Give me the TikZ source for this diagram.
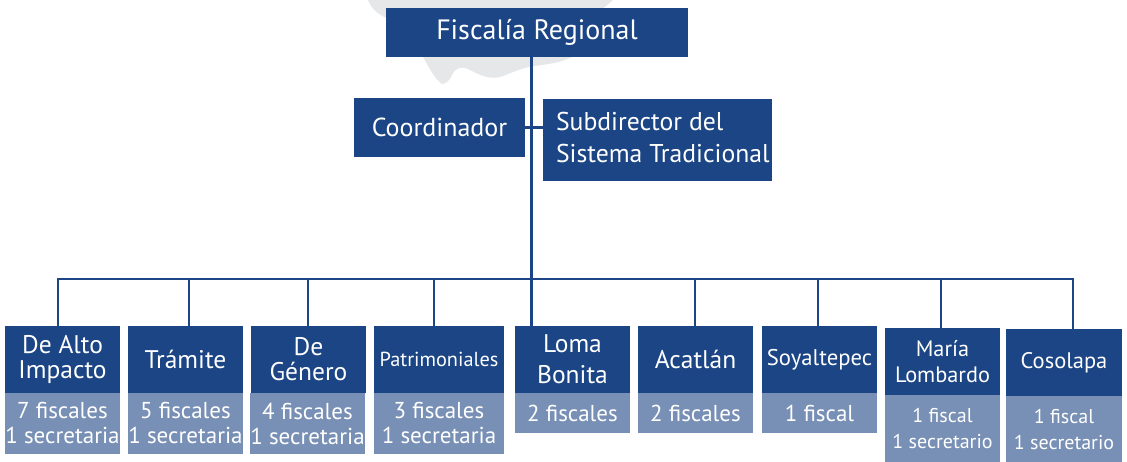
\documentclass[tikz,border=0pt]{standalone}
\usepackage{fontspec}
\setmainfont{PT Sans}
\definecolor{dkblue}{HTML}{1B4584}
\definecolor{ltblue}{HTML}{7890B5}
\definecolor{blobgray}{HTML}{E6E7E9}
\begin{document}
\begin{tikzpicture}[x=1pt,y=-1pt,
  dk/.style={fill=dkblue, text=white, inner sep=0pt, align=center,
     font=\fontsize{25.5}{25}\selectfont},
  lt/.style={fill=ltblue, text=white, inner sep=0pt, align=center,
     font=\fontsize{23}{25}\selectfont},
  ln/.style={draw=dkblue, line width=2.5pt, line join=miter}]
\useasboundingbox (0,0) rectangle (1127,462);
% background blob
\fill[blobgray] (368,0) .. controls (372,10) and (378,14) .. (390,20) -- (420,50) -- (423,57)
  .. controls (430,70) and (436,80) .. (442,84) .. controls (446,84) and (450,80) .. (452,75)
  .. controls (455,68) and (462,66) .. (468,69) .. controls (478,74) and (488,80) .. (500,77)
  .. controls (510,74) and (520,68) .. (535,66) .. controls (550,64) and (565,62) .. (575,55)
  -- (590,20) .. controls (600,10) and (608,5) .. (613,0) -- cycle;
% top
\node[dk, minimum width=302pt, minimum height=49pt, font=\fontsize{28}{30}\selectfont] (F) at (537,32.5) {Fiscalía Regional};
\node[dk, minimum width=171pt, minimum height=59pt, font=\fontsize{26}{32}\selectfont] (C) at (439.5,127.5) {Coordinador};
\node[dk, minimum width=229pt, minimum height=82pt] (S) at (657.5,140) {};
\node[anchor=west, text=white, inner sep=0pt, align=left, font=\fontsize{25.7}{32}\selectfont] (St) at ([xshift=13pt,yshift=2pt]S.west) {Subdirector del\\Sistema Tradicional};
% bottom dark
\node[dk, minimum width=115pt, minimum height=67pt] (b1) at (62.5,359.5) {De Alto\\Impacto};
\node[dk, minimum width=115pt, minimum height=67pt] (b2) at (185.5,359.5) {Trámite};
\node[dk, minimum width=115pt, minimum height=67pt] (b3) at (308.5,359.5) {De\\Género};
\node[dk, minimum width=130pt, minimum height=67pt, font=\fontsize{20.3}{24}\selectfont] (b4) at (439,359.5) {Patrimoniales};
\node[dk, minimum width=115pt, minimum height=67pt, font=\fontsize{25.5}{31}\selectfont] (b5) at (572.5,359.5) {Loma\\Bonita};
\node[dk, minimum width=115pt, minimum height=67pt] (b6) at (695.5,359.5) {Acatlán};
\node[dk, minimum width=115pt, minimum height=67pt, font=\fontsize{22.7}{25}\selectfont] (b7) at (819.5,359.5) {Soyaltepec};
\node[dk, minimum width=115pt, minimum height=67pt, font=\fontsize{22.3}{26}\selectfont] (b8) at (942.5,361.5) {María\\Lombardo};
\node[dk, minimum width=116pt, minimum height=67pt, font=\fontsize{22.5}{26}\selectfont] (b9) at (1064,362.5) {Cosolapa};
% bottom light
\node[lt, minimum width=115pt, minimum height=61pt] (l1) at (62.5,423.5) {7 fiscales\\1 secretaria};
\node[lt, minimum width=115pt, minimum height=61pt] (l2) at (185.5,423.5) {5 fiscales\\1 secretaria};
\node[lt, minimum width=115pt, minimum height=61pt] (l3) at (307.5,423.5) {4 fiscales\\1 secretaria};
\node[lt, minimum width=130pt, minimum height=61pt] (l4) at (439,423.5) {3 fiscales\\1 secretaria};
\node[lt, minimum width=115pt, minimum height=40pt] (l5) at (572.5,413) {2 fiscales};
\node[lt, minimum width=115pt, minimum height=40pt] (l6) at (695.5,413) {2 fiscales};
\node[lt, minimum width=115pt, minimum height=40pt] (l7) at (819.5,413) {1 fiscal};
\node[lt, minimum width=115pt, minimum height=67pt, font=\fontsize{20}{26}\selectfont] (l8) at (942.5,428.5) {1 fiscal\\1 secretario};
\node[lt, minimum width=116pt, minimum height=66pt, font=\fontsize{20}{26}\selectfont] (l9) at (1064,429) {1 fiscal\\1 secretario};
% connectors
\coordinate (mainx) at (531.5,279);
\coordinate (d1) at (58,279);
\coordinate (d2) at (189,279);
\coordinate (d3) at (308,279);
\coordinate (d4) at (434,279);
\coordinate (d6) at (695,279);
\coordinate (d7) at (818,279);
\coordinate (d8) at (941,279);
\coordinate (d9) at (1073,279);
\draw[ln] (F.south -| mainx) -- (b5.north -| mainx);
\draw[ln] (C.east) -- (C.east -| S.west);
\draw[ln] (b1.north -| d1) -- (d1) -- (d9) -- (b9.north -| d9);
\foreach \i in {2,3,4,6,7,8} { \draw[ln] (d\i) -- (b\i.north -| d\i); }
\end{tikzpicture}
\end{document}
